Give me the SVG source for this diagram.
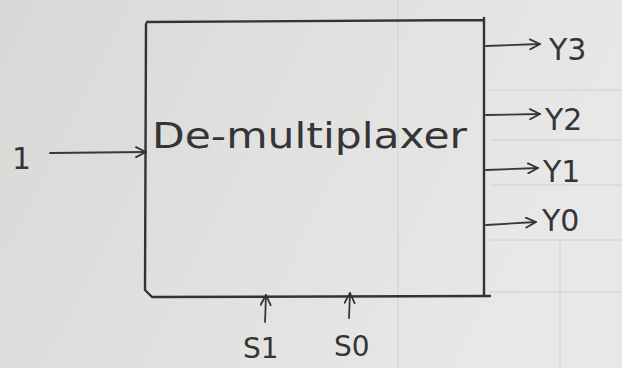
<svg xmlns="http://www.w3.org/2000/svg" width="622" height="368" viewBox="0 0 622 368">
  <defs>
    <linearGradient id="paper" x1="0" y1="0" x2="1" y2="0.3">
      <stop offset="0" stop-color="#d8d8d6"/>
      <stop offset="0.6" stop-color="#e2e2e1"/>
      <stop offset="1" stop-color="#e8e8e8"/>
    </linearGradient>
    <marker id="pen" viewBox="0 0 12 12" refX="11" refY="6" markerWidth="12" markerHeight="12" markerUnits="userSpaceOnUse" orient="auto">
      <path d="M1,1 L11,6 L1,11" fill="none" stroke="#333336" stroke-width="1.8" stroke-linecap="round" stroke-linejoin="round"/>
    </marker>
    <style>
      .ink { fill: none; stroke: #333336; stroke-width: 2.4; stroke-linecap: round; stroke-linejoin: round; }
      .wire { fill: none; stroke: #38383b; stroke-width: 1.8; stroke-linecap: round; marker-end: url(#pen); }
      .grid { stroke: #d0d0d0; stroke-width: 1; }
      .hand { font-family: "DejaVu Sans", "Liberation Sans", sans-serif; fill: #353538; }
      .lbl { font-size: 30px; }
    </style>
  </defs>

  <!-- notebook page -->
  <rect width="622" height="368" fill="url(#paper)"/>
  <g id="rules">
    <line class="grid" x1="398" y1="0" x2="398" y2="368"/>
    <line class="grid" x1="490" y1="90" x2="622" y2="90"/>
    <line class="grid" x1="490" y1="140" x2="622" y2="140"/>
    <line class="grid" x1="490" y1="185" x2="622" y2="185"/>
    <line class="grid" x1="490" y1="240" x2="622" y2="240"/>
    <line class="grid" x1="490" y1="292" x2="622" y2="292"/>
    <line class="grid" x1="560" y1="240" x2="560" y2="368"/>
  </g>

  <!-- demultiplexer block -->
  <g id="demux">
    <path class="ink" d="M147,22 L483,20 M484,18 L484,296 M146,24 L145,290 L152,297 L490,296"/>
    <text class="hand" x="152" y="148" font-size="36" textLength="315" lengthAdjust="spacingAndGlyphs">De-multiplaxer</text>
  </g>

  <!-- input -->
  <g id="input">
    <text class="hand lbl" x="12" y="169">1</text>
  </g>

  <!-- outputs -->
  <g id="y3"><text class="hand lbl" x="549" y="60">Y3</text></g>
  <g id="y2"><text class="hand lbl" x="545" y="130">Y2</text></g>
  <g id="y1"><text class="hand lbl" x="543" y="182">Y1</text></g>
  <g id="y0"><text class="hand lbl" x="542" y="231">Y0</text></g>

  <!-- select lines -->
  <g id="s1"><text class="hand" font-size="28" x="243" y="358">S1</text></g>
  <g id="s0"><text class="hand" font-size="28" x="334" y="356">S0</text></g>

  <g id="connectors">
    <line class="wire" x1="50" y1="153" x2="146" y2="152"/>
    <line class="wire" x1="486" y1="46" x2="540" y2="44"/>
    <line class="wire" x1="486" y1="115" x2="540" y2="114"/>
    <line class="wire" x1="486" y1="170" x2="538" y2="168"/>
    <line class="wire" x1="486" y1="225" x2="536" y2="222"/>
    <line class="wire" x1="265" y1="322" x2="266" y2="295"/>
    <line class="wire" x1="349" y1="318" x2="350" y2="293"/>
  </g>
</svg>
